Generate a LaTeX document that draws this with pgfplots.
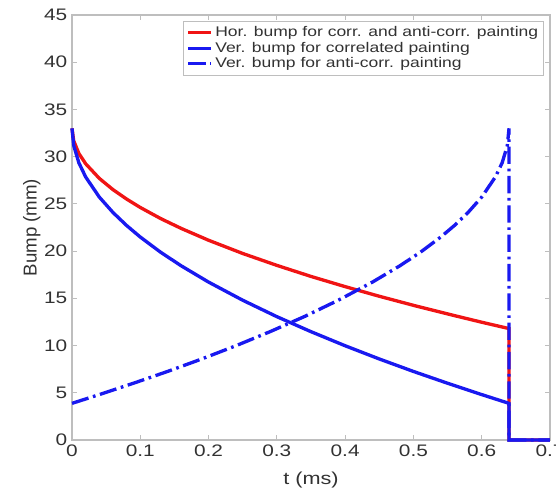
\documentclass[border=0pt]{standalone}
\usepackage{fontspec}
\setmainfont{Liberation Sans}[FakeStretch=1.25]
\newfontfamily\plainsans{Liberation Sans}
\usepackage{pgfplots}
\pgfplotsset{compat=1.18}

\definecolor{axgray}{RGB}{190,190,190}
\definecolor{txtgray}{RGB}{50,50,50}
\definecolor{mred}{RGB}{240,20,20}
\definecolor{mblue}{RGB}{25,25,240}

\begin{document}
\begin{tikzpicture}
\begin{axis}[
    scale only axis,
    width=358.5pt,
    height=318.75pt,
    xmin=0, xmax=0.7,
    ymin=0, ymax=45,
    xtick={0,0.1,0.2,0.3,0.4,0.5,0.6,0.7},
    xticklabels={0,0.1,0.2,0.3,0.4,0.5,0.6,0.7},
    ytick={0,5,10,15,20,25,30,35,40,45},
    yticklabels={0,5,10,15,20,25,30,35,40,45},
    tick align=inside,
    major tick length=4pt,
    axis line style={axgray, line width=0.8pt},
    tick style={axgray, line width=0.6pt},
    ticklabel style={font=\fontsize{12.5}{14}\selectfont, text=txtgray},
    /pgf/number format/assume math mode=true,
    xlabel={t (ms)},
    ylabel={\plainsans Bump (mm)},
    xlabel style={font=\fontsize{13}{15}\selectfont, text=txtgray,
        at={(axis description cs:0.5,-0.094)}, anchor=center},
    ylabel style={font=\fontsize{14}{16}\selectfont, text=txtgray,
        at={(axis description cs:-0.084,0.5)}, anchor=center},
    clip=false,
    legend style={at={(0.9874,0.9859)}, anchor=north east,
        draw=axgray, line width=0.6pt,
        font=\fontsize{10.5}{12}\selectfont, text=txtgray,
        row sep=-1.5pt, inner sep=2pt},
    legend cell align=left,
]
% horizontal bump, corr. and anti-corr.
\addplot[mred, line width=2.5pt] coordinates {
    (0,33) (0.0025,31.68) (0.01,30.35) (0.02,29.25) (0.04,27.70)
    (0.06,26.51) (0.08,25.51) (0.1,24.62) (0.13,23.44) (0.16,22.40)
    (0.2,21.15) (0.25,19.75) (0.3,18.49) (0.35,17.32) (0.4,16.24)
    (0.45,15.22) (0.5,14.26) (0.55,13.35) (0.6,12.47) (0.64,11.80)
    (0.64,0) (0.7,0)
};
\addlegendentry{Hor. bump for corr. and anti-corr. painting}
% vertical bump, correlated
\addplot[mblue, line width=2.5pt] coordinates {
    (0,33) (0.0025,31.18) (0.01,29.36) (0.02,27.85) (0.04,25.72)
    (0.06,24.09) (0.08,22.71) (0.1,21.49) (0.13,19.87) (0.16,18.44)
    (0.2,16.72) (0.25,14.80) (0.3,13.06) (0.35,11.47) (0.4,9.98)
    (0.45,8.58) (0.5,7.26) (0.55,6.01) (0.6,4.81) (0.64,3.88)
    (0.64,0) (0.7,0)
};
\addlegendentry{Ver. bump for correlated painting}
% vertical bump, anti-correlated
\addplot[mblue, line width=2.5pt, dash pattern=on 13pt off 3.5pt on 2pt off 3.5pt] coordinates {
    (0,3.88) (0.04,4.81) (0.09,6.01) (0.14,7.26) (0.19,8.58)
    (0.24,9.98) (0.29,11.47) (0.34,13.06) (0.39,14.80) (0.44,16.72)
    (0.48,18.44) (0.51,19.87) (0.54,21.49) (0.56,22.71) (0.58,24.09)
    (0.60,25.72) (0.62,27.85) (0.63,29.36) (0.6375,31.18) (0.64,33)
    (0.64,0) (0.7,0)
};
\addlegendentry{Ver. bump for anti-corr. painting}
\end{axis}
\pgfresetboundingbox
\path[use as bounding box] (-54pt,-37.5pt) rectangle (363pt,330pt);
\end{tikzpicture}
\end{document}
